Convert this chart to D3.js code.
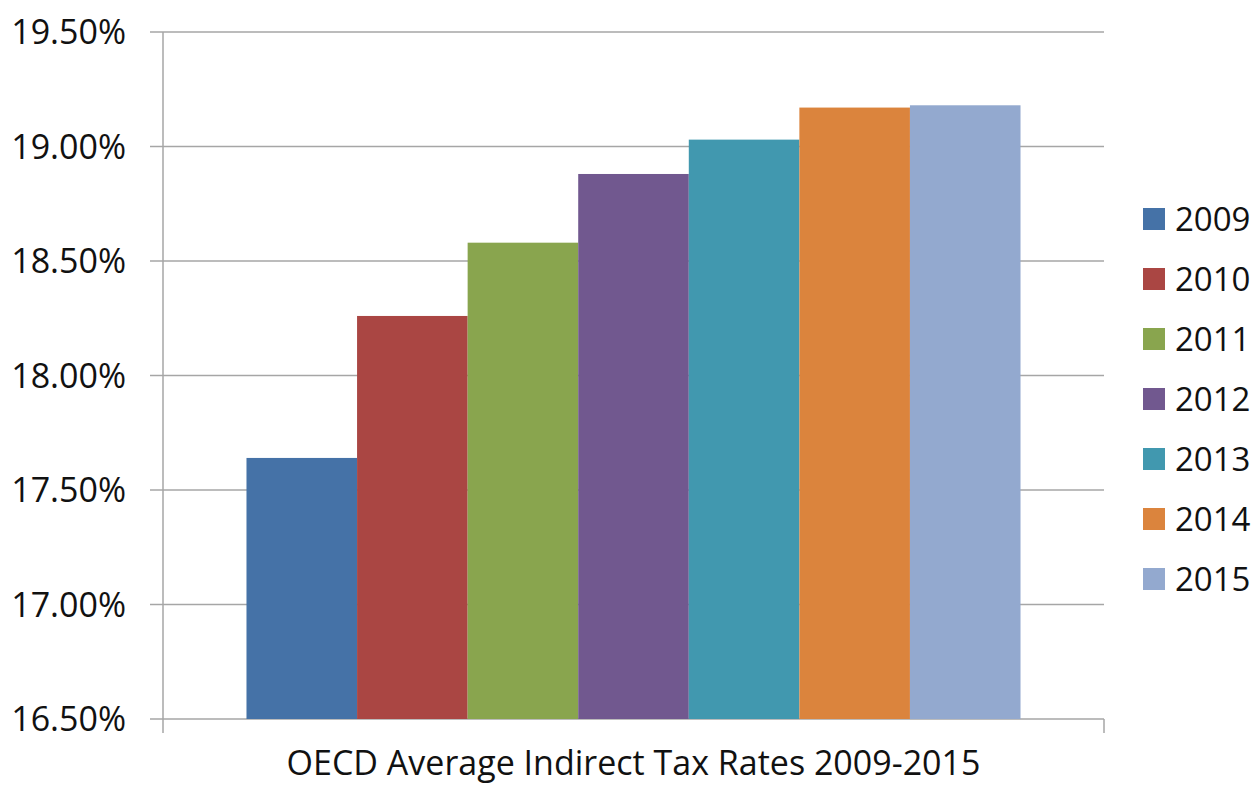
<!DOCTYPE html>
<html>
<head>
<meta charset="utf-8">
<script src="https://cdn.jsdelivr.net/npm/d3@7"></script>
<style>
  body { margin: 0; background: #fff; }
  svg text { font-family: "Open Sans", "Noto Sans", sans-serif; fill: #111; }
</style>
</head>
<body>
<svg width="1255" height="785"></svg>
<script>
// Data
var years = ["2009", "2010", "2011", "2012", "2013", "2014", "2015"];
var rates = [17.64, 18.26, 18.58, 18.88, 19.03, 19.17, 19.18];
var colors = ["#4572a7", "#aa4643", "#89a54e", "#71588f", "#4198af", "#db843d", "#93a9cf"];
var yTicks = [16.5, 17.0, 17.5, 18.0, 18.5, 19.0, 19.5];
var title = "OECD Average Indirect Tax Rates 2009-2015";

var svg = d3.select("svg");
var margin = { left: 163, right: 151, top: 32, bottom: 66 };
var width = 1255 - margin.left - margin.right,
    height = 785 - margin.top - margin.bottom;

var g = svg.append("g")
    .attr("transform", "translate(" + margin.left + "," + margin.top + ")");

var x = d3.scaleBand()
    .domain(years)
    .range([0, width])
    .paddingInner(0)
    .paddingOuter(0.755);

var y = d3.scaleLinear()
    .domain([16.5, 19.5])
    .range([height, 0]);

// gridlines with small ticks left of the axis
g.append("g")
  .selectAll("line")
  .data(yTicks)
  .enter().append("line")
    .attr("x1", -13)
    .attr("x2", width)
    .attr("y1", function(d) { return y(d); })
    .attr("y2", function(d) { return y(d); })
    .attr("stroke", "#a6a6a6")
    .attr("stroke-width", 1.5);

// y tick labels
g.append("g")
  .selectAll("text")
  .data(yTicks)
  .enter().append("text")
    .attr("x", -37)
    .attr("y", function(d) { return y(d); })
    .attr("dy", "0.36em")
    .attr("text-anchor", "end")
    .style("font-size", "34px")
    .text(function(d) { return d.toFixed(2) + "%"; });

// bars
g.append("g")
  .selectAll("rect")
  .data(years)
  .enter().append("rect")
    .attr("x", function(d) { return x(d); })
    .attr("width", x.bandwidth())
    .attr("y", function(d, i) { return y(rates[i]); })
    .attr("height", function(d, i) { return height - y(rates[i]); })
    .attr("fill", function(d, i) { return colors[i]; });

// axis lines
g.append("line")
    .attr("x1", 0).attr("x2", 0)
    .attr("y1", 0).attr("y2", height + 14)
    .attr("stroke", "#a6a6a6").attr("stroke-width", 1.5);
g.append("line")
    .attr("x1", width).attr("x2", width)
    .attr("y1", height).attr("y2", height + 14)
    .attr("stroke", "#a6a6a6").attr("stroke-width", 1.5);

// category title under the axis
g.append("text")
    .attr("x", width / 2)
    .attr("y", height + 56)
    .attr("text-anchor", "middle")
    .style("font-size", "34px")
    .text(title);

// legend
var legend = svg.append("g")
    .attr("transform", "translate(1143,219)");

var item = legend.selectAll("g")
    .data(years)
    .enter().append("g")
      .attr("transform", function(d, i) { return "translate(0," + (i * 60) + ")"; });

item.append("rect")
    .attr("x", 0).attr("y", -11)
    .attr("width", 22).attr("height", 22)
    .attr("fill", function(d, i) { return colors[i]; });

item.append("text")
    .attr("x", 32)
    .attr("dy", "0.36em")
    .style("font-size", "33px")
    .text(function(d) { return d; });
</script>
</body>
</html>
